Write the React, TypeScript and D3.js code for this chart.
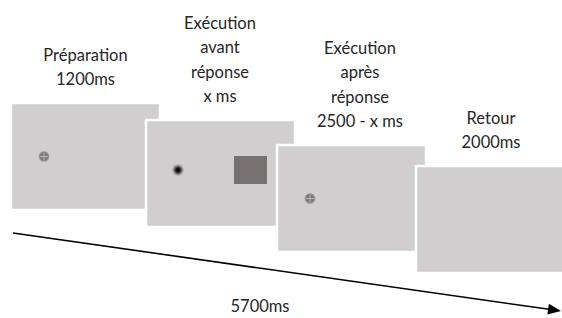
import React from "react";
import * as d3 from "d3";

// phases of the trial, in order
const phases = ["prep", "execBefore", "execAfter", "feedback"];
const phaseLabels = [
  ["Préparation", "1200ms"],
  ["Exécution", "avant", "réponse", "x ms"],
  ["Exécution", "après", "réponse", "2500 - x ms"],
  ["Retour", "2000ms"],
];
// what is shown on each screen
const fixationPhases = ["prep", "execAfter"];
const targetDotPhases = ["execBefore"];
const targetSquarePhases = ["execBefore"];
const totalLabel = "5700ms";

const W = 562;
const H = 318;

const App = () => {
  // screen placement (stepped cascade)
  const xScreen = d3.scaleOrdinal<string, number>().domain(phases).range([11, 146, 277, 416]);
  const yScreen = d3.scaleOrdinal<string, number>().domain(phases).range([103, 120, 145, 166]);
  const xLabel = d3.scaleOrdinal<string, number>().domain(phases).range([85.5, 220, 360, 491]);
  const screenW = 149;
  const screenH = 107;
  const lineH = 24.3;
  const textGap = 18;

  // time arrow
  const tScale = d3.scaleLinear().domain([0, 1]).range([13, 561]);
  const yArrow = d3.scaleLinear().domain([0, 1]).range([233, 311]);
  const arrowLine = d3.line<number>().x((d) => tScale(d)).y((d) => yArrow(d));
  const ang = Math.atan2(yArrow(1) - yArrow(0), tScale(1) - tScale(0));
  const tipX = tScale(1);
  const tipY = yArrow(1);
  const headLen = 13;
  const headW = 5.5;
  const bx = tipX - headLen * Math.cos(ang);
  const by = tipY - headLen * Math.sin(ang);
  const head = [
    [tipX, tipY],
    [bx + headW * Math.sin(ang), by - headW * Math.cos(ang)],
    [bx - headW * Math.sin(ang), by + headW * Math.cos(ang)],
  ];

  const font = "Lato, 'Open Sans', sans-serif";

  return (
    <svg
      width={W}
      height={H}
      style={{ position: "absolute", left: 0, top: 0, background: "#fff" }}
    >
      <defs>
        <radialGradient id="dotGrad">
          <stop offset="0%" stopColor="#000" />
          <stop offset="35%" stopColor="#1a1a1a" />
          <stop offset="65%" stopColor="#7a7878" />
          <stop offset="100%" stopColor="#c6c4c4" />
        </radialGradient>
        <radialGradient id="fixGrad">
          <stop offset="0%" stopColor="#777676" />
          <stop offset="70%" stopColor="#7d7c7c" />
          <stop offset="100%" stopColor="#b4b2b2" />
        </radialGradient>
      </defs>

      {phases.map((p, i) => {
        const x0 = xScreen(p);
        const y0 = yScreen(p);
        const lines = phaseLabels[i];
        const cx = xLabel(p);
        return (
          <g key={p}>
            <rect
              x={x0}
              y={y0}
              width={screenW}
              height={screenH}
              fill="#d0cece"
              stroke="#fff"
              strokeWidth={2.5}
            />
            {fixationPhases.includes(p) && (
              <g transform={`translate(${x0 + 33},${y0 + 53.5})`}>
                <circle r={5.5} fill="url(#fixGrad)" />
                <line x1={-4} x2={4} y1={0} y2={0} stroke="#b8b6b6" strokeWidth={1} />
                <line x1={0} x2={0} y1={-4} y2={4} stroke="#b8b6b6" strokeWidth={1} />
              </g>
            )}
            {targetDotPhases.includes(p) && (
              <circle cx={x0 + 32} cy={y0 + 50} r={6} fill="url(#dotGrad)" />
            )}
            {targetSquarePhases.includes(p) && (
              <rect x={x0 + 88} y={y0 + 36} width={33} height={28} fill="#767171" />
            )}
            <text textAnchor="middle" fontFamily={font} fontSize={16.5} fill="#262626">
              {lines.map((l, k) => (
                <tspan key={k} x={cx} y={y0 - textGap - (lines.length - 1 - k) * lineH}>
                  {l}
                </tspan>
              ))}
            </text>
          </g>
        );
      })}

      <path d={arrowLine([0, 0.985]) || ""} stroke="#000" strokeWidth={1.6} fill="none" />
      <polygon points={head.map((d) => d.join(",")).join(" ")} fill="#000" />

      <text x={260} y={312} textAnchor="middle" fontFamily={font} fontSize={16.5} fill="#262626">
        {totalLabel}
      </text>
    </svg>
  );
};

export default App;
